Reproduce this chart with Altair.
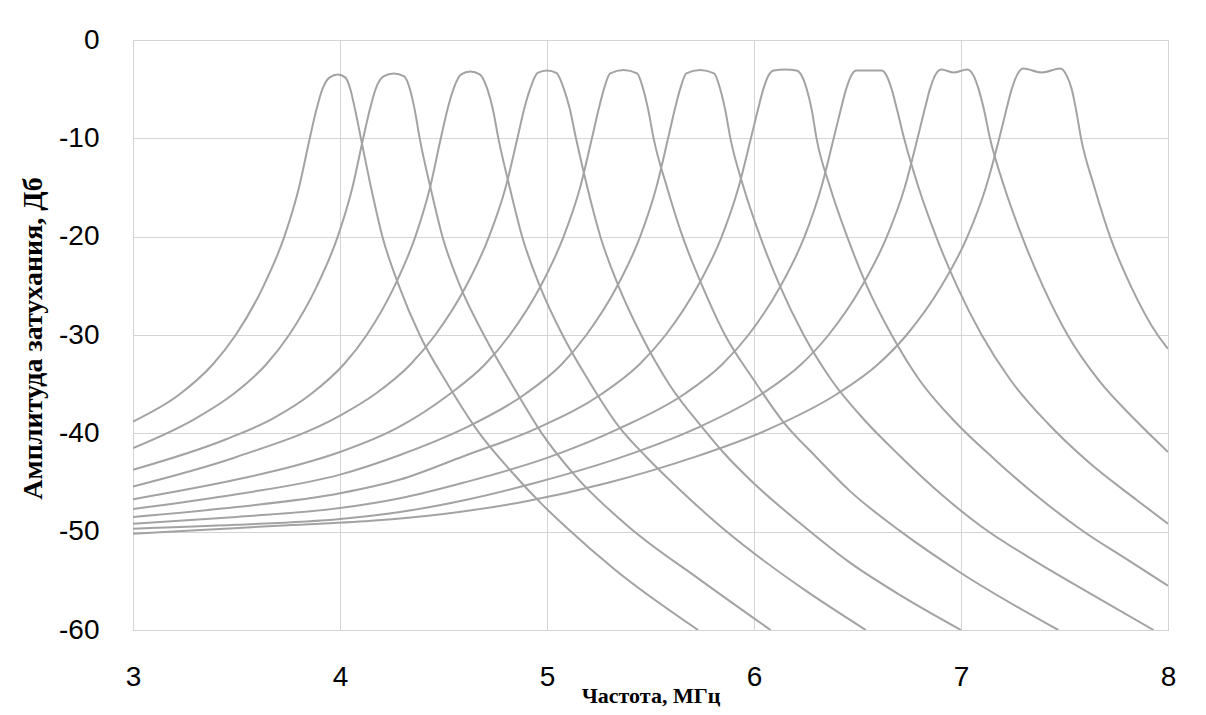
import altair as alt
import pandas as pd

# Frequency (MHz) / attenuation (dB) points, one pair of lists per filter curve
c1_f = [3.0, 3.227, 3.385, 3.496, 3.631, 3.731, 3.802, 3.854, 3.887, 3.915, 3.95, 3.99, 4.025, 4.05, 4.072, 4.101, 4.15, 4.205, 4.285, 4.385, 4.52, 4.674, 4.82, 4.98, 5.09, 5.33, 5.73]
c1_db = [-38.8, -36, -33, -30, -25, -20, -15, -10, -7, -5, -3.8, -3.5, -3.8, -5, -7, -10, -15, -20, -25, -30, -35, -40, -43.7, -47.3, -49.5, -53.9, -60]

c2_f = [3.0, 3.293, 3.485, 3.643, 3.754, 3.889, 3.989, 4.06, 4.112, 4.145, 4.172, 4.21, 4.26, 4.31, 4.338, 4.36, 4.385, 4.437, 4.495, 4.58, 4.695, 4.83, 4.975, 5.14, 5.40, 5.74, 6.08]
c2_db = [-41.5, -38.6, -36, -33, -30, -25, -20, -15, -10, -7, -5, -3.7, -3.4, -3.7, -5, -7, -10, -15, -20, -25, -30, -35, -40, -44.4, -49.6, -54.9, -60]

c3_f = [3.0, 3.45, 3.675, 3.86, 4.018, 4.129, 4.264, 4.364, 4.435, 4.487, 4.52, 4.548, 4.585, 4.63, 4.675, 4.712, 4.738, 4.765, 4.82, 4.88, 4.965, 5.075, 5.2, 5.35, 5.48, 5.63, 5.84, 6.0, 6.25, 6.54]
c3_db = [-43.7, -40.6, -38.5, -36, -33, -30, -25, -20, -15, -10, -7, -5, -3.5, -3.2, -3.5, -5, -7, -10, -15, -20, -25, -30, -34.6, -39.4, -42.4, -45.5, -49.5, -52.2, -56, -60]

c4_f = [3.0, 3.5, 4.0, 4.17, 4.34, 4.46, 4.61, 4.72, 4.8, 4.857, 4.89, 4.918, 4.955, 5.0, 5.045, 5.082, 5.11, 5.14, 5.195, 5.258, 5.345, 5.455, 5.59, 5.75, 5.85, 6.0, 6.22, 6.46, 6.71, 7.0]
c4_db = [-45.4, -42.4, -38.2, -36, -33, -30, -25, -20, -15, -10, -7, -5, -3.35, -3.1, -3.35, -5, -7, -10, -15, -20, -25, -30, -35, -39.4, -41.9, -45.1, -49.1, -53.1, -56.5, -60]

c5_f = [3.0, 3.5, 3.8, 4.0, 4.29, 4.53, 4.70, 4.82, 4.97, 5.08, 5.16, 5.217, 5.25, 5.275, 5.305, 5.37, 5.435, 5.465, 5.488, 5.515, 5.58, 5.655, 5.75, 5.86, 6.0, 6.14, 6.3, 6.46, 6.71, 7.0, 7.47]
c5_db = [-46.7, -44.7, -43.2, -41.9, -39.3, -36, -33, -30, -25, -20, -15, -10, -7, -5, -3.4, -3.05, -3.4, -5, -7, -10, -15, -20, -25, -30, -34.6, -38.8, -42.4, -45.8, -50, -54.2, -60]

c6_f = [3.0, 3.5, 4.0, 4.29, 4.6, 4.895, 5.07, 5.19, 5.34, 5.45, 5.528, 5.585, 5.618, 5.643, 5.673, 5.74, 5.807, 5.837, 5.86, 5.886, 5.95, 6.03, 6.125, 6.24, 6.375, 6.54, 6.71, 6.91, 7.1, 7.35, 7.6, 7.93]
c6_db = [-47.7, -46.2, -44.2, -42.2, -39.5, -36, -33, -30, -25, -20, -15, -10, -7, -5, -3.4, -3.05, -3.4, -5, -7, -10, -15, -20, -25, -30, -34.6, -38.8, -42.4, -46.3, -49.5, -52.9, -56, -60]

c7_f = [3.0, 3.5, 4.0, 4.29, 4.6, 4.95, 5.264, 5.446, 5.573, 5.729, 5.844, 5.925, 5.985, 6.02, 6.045, 6.07, 6.095, 6.15, 6.205, 6.23, 6.255, 6.278, 6.302, 6.368, 6.45, 6.545, 6.665, 6.8, 6.97, 7.16, 7.38, 7.58, 7.8, 8.0]
c7_db = [-48.5, -47.5, -46.1, -44.7, -42.3, -39.5, -36, -33, -30, -25, -20, -15, -10, -7, -5, -3.6, -3.1, -3.0, -3.1, -3.6, -5, -7, -10, -15, -20, -25, -30, -34.6, -38.8, -42.6, -46.6, -49.8, -52.8, -55.5]

c8_f = [3.0, 3.5, 4.0, 4.29, 4.6, 5.0, 5.35, 5.664, 5.846, 5.973, 6.129, 6.244, 6.325, 6.385, 6.42, 6.445, 6.47, 6.495, 6.555, 6.615, 6.64, 6.665, 6.69, 6.725, 6.795, 6.88, 6.98, 7.1, 7.24, 7.42, 7.62, 7.85, 8.0]
c8_db = [-49.2, -48.5, -47.6, -46.6, -45.0, -42.5, -39.5, -36, -33, -30, -25, -20, -15, -10, -7, -5, -3.6, -3.1, -3.1, -3.1, -3.6, -5, -7, -10, -15, -20, -25, -30, -34.6, -39, -43, -46.8, -49.2]

c9_f = [3.0, 3.5, 4.0, 4.29, 4.6, 4.95, 5.35, 5.72, 6.037, 6.227, 6.36, 6.522, 6.642, 6.728, 6.79, 6.825, 6.85, 6.875, 6.905, 6.965, 7.03, 7.06, 7.085, 7.11, 7.14, 7.21, 7.295, 7.395, 7.515, 7.665, 7.84, 8.0]
c9_db = [-49.7, -49.3, -48.7, -48.0, -46.8, -45, -42.5, -39.5, -36, -33, -30, -25, -20, -15, -10, -7, -5, -3.6, -3.0, -3.3, -3.0, -3.6, -5, -7, -10, -15, -20, -25, -30, -34.6, -38.6, -41.9]

c10_f = [3.0, 3.35, 3.7, 4.15, 4.5, 4.9, 5.3, 5.7, 6.08, 6.401, 6.598, 6.737, 6.906, 7.031, 7.12, 7.185, 7.22, 7.245, 7.27, 7.3, 7.39, 7.48, 7.51, 7.535, 7.555, 7.58, 7.645, 7.72, 7.82, 7.95, 8.0]
c10_db = [-50.2, -49.8, -49.4, -48.9, -48.2, -46.9, -45, -42.5, -39.5, -36, -33, -30, -25, -20, -15, -10, -7, -5, -3.6, -2.9, -3.3, -2.9, -3.6, -5, -7, -10, -15, -20, -25, -30, -31.4]

curves = {
    "1": (c1_f, c1_db), "2": (c2_f, c2_db), "3": (c3_f, c3_db), "4": (c4_f, c4_db),
    "5": (c5_f, c5_db), "6": (c6_f, c6_db), "7": (c7_f, c7_db), "8": (c8_f, c8_db),
    "9": (c9_f, c9_db), "10": (c10_f, c10_db),
}

x_ticks = [3, 4, 5, 6, 7, 8]
y_ticks = [0, -10, -20, -30, -40, -50, -60]

rows = []
for name, (fs, dbs) in curves.items():
    for i, (f, d) in enumerate(zip(fs, dbs)):
        rows.append({"curve": name, "f": f, "db": d, "idx": i})
df = pd.DataFrame(rows)

lines = alt.Chart(df).mark_line(
    color="#a3a3a3", strokeWidth=2, clip=True, interpolate="monotone"
).encode(
    x=alt.X(
        "f:Q",
        scale=alt.Scale(domain=[3, 8], nice=False, zero=False),
        axis=alt.Axis(
            values=x_ticks, title="Частота, МГц", grid=True, gridColor="#d4d4d4",
            domain=False, ticks=False, labelFont="Liberation Sans", labelFontSize=28,
            labelColor="#000000", labelPadding=33, labelFlush=False,
            labelExpr="datum.value + ''",
            titleFont="Liberation Serif", titleFontSize=22, titleFontWeight="bold",
            titleColor="#000000", titleY=55, titleBaseline="top",
        ),
    ),
    y=alt.Y(
        "db:Q",
        scale=alt.Scale(domain=[-60, 0], nice=False, zero=False),
        axis=alt.Axis(
            values=y_ticks, title="Амплитуда затухания, Дб", grid=True, gridColor="#d4d4d4",
            domain=False, ticks=False, labelFont="Liberation Sans", labelFontSize=28,
            labelColor="#000000", labelPadding=34, labelFlush=False,
            labelExpr="datum.value + ''",
            titleFont="Liberation Serif", titleFontSize=28, titleFontWeight="bold",
            titleColor="#000000", titleAngle=270, titleX=-92, titleY=298,
            titleBaseline="alphabetic", titleAlign="center",
        ),
    ),
    detail="curve:N",
    order="idx:Q",
)

chart = lines.properties(
    width=1035, height=590,
    autosize=alt.AutoSizeParams(type="none"),
    padding={"left": 125, "top": 32, "right": 30, "bottom": 77},
    background="#ffffff",
).configure_view(stroke="#bfbfbf", strokeWidth=1)

chart.save("out.html", embed_options={"renderer": "svg", "actions": False})
